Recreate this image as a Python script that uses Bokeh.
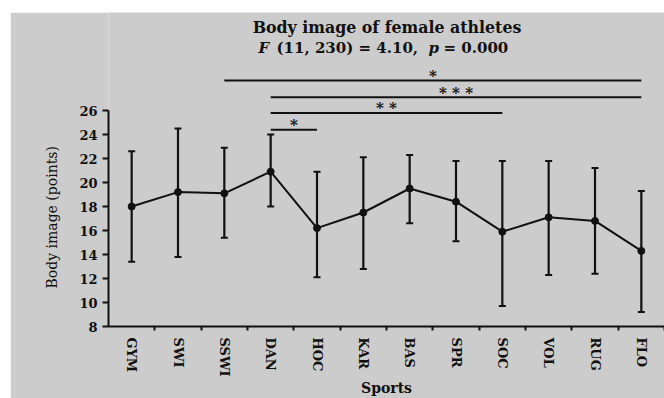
from bokeh.plotting import figure
from bokeh.models import ColumnDataSource, Range1d, FixedTicker, Whisker, TeeHead, Label, Title
from bokeh.embed import file_html
from bokeh.resources import INLINE
from bokeh.core.properties import value

# ---- data ----
categories = ["GYM", "SWI", "SSWI", "DAN", "HOC", "KAR", "BAS", "SPR", "SOC", "VOL", "RUG", "FLO"]
mean_score = [18.0, 19.2, 19.1, 20.9, 16.2, 17.5, 19.5, 18.4, 15.9, 17.1, 16.8, 14.3]
upper_score = [22.6, 24.5, 22.9, 24.0, 20.9, 22.1, 22.3, 21.8, 21.8, 21.8, 21.2, 19.3]
lower_score = [13.4, 13.8, 15.4, 18.0, 12.1, 12.8, 16.6, 15.1, 9.7, 12.3, 12.4, 9.2]
y_ticks = [8, 10, 12, 14, 16, 18, 20, 22, 24, 26]

sig_from = ["DAN", "DAN", "DAN", "SSWI"]
sig_to = ["HOC", "SOC", "FLO", "FLO"]
sig_level = [24.4, 25.8, 27.1, 28.5]
sig_label = ["*", "* *", "* * *", "*"]

title_line1 = "Body image of female athletes"
title_parts = [("F", "bold italic"), ("(11, 230) = 4.10,", "bold"), ("p", "bold italic"), ("= 0.000", "bold")]
y_label = "Body image (points)"
x_label = "Sports"

# ---- layout helpers (page pixels) ----
FONT = "DejaVu Serif"
INK = "#111111"
BG = "#cccccc"
FIG_L, FIG_T, FIG_W, FIG_H = 10, 12, 654, 386
FRAME_L, FRAME_R, FRAME_T, FRAME_B = 108, 664, 12, 326
X0, X1 = 0.5, 12.5
Y0 = 8
PX_PER_Y = 12.0
Y1 = Y0 + (FRAME_B - FRAME_T) / PX_PER_Y


def px2x(px):
    return X0 + (px - FRAME_L) * (X1 - X0) / (FRAME_R - FRAME_L)


def py2y(py):
    return Y0 + (FRAME_B - py) / PX_PER_Y


xs = [i + 1 for i in range(len(categories))]
pos = {c: x for c, x in zip(categories, xs)}

p = figure(width=FIG_W, height=FIG_H, output_backend="svg", toolbar_location=None,
           x_range=Range1d(X0, X1), y_range=Range1d(Y0, Y1),
           min_border_left=FRAME_L - FIG_L, min_border_right=0,
           min_border_top=FRAME_T - FIG_T, min_border_bottom=FIG_T + FIG_H - FRAME_B,
           margin=(FIG_T, 0, 0, FIG_L))
p.background_fill_color = BG
p.border_fill_color = BG
p.outline_line_color = None
p.xgrid.visible = False
p.ygrid.visible = False

# x axis
xa = p.xaxis[0]
xa.ticker = FixedTicker(ticks=xs, minor_ticks=[x + 0.5 for x in xs])
xa.major_label_overrides = {x: c for x, c in zip(xs, categories)}
xa.major_label_orientation = "vertical"
xa.major_label_text_font = FONT
xa.major_label_text_font_style = "bold"
xa.major_label_text_font_size = "13px"
xa.major_label_text_color = INK
xa.major_label_standoff = 7
xa.major_tick_in = 0
xa.major_tick_out = 0
xa.minor_tick_in = 0
xa.minor_tick_out = 4
xa.minor_tick_line_width = 2
xa.minor_tick_line_color = INK
xa.axis_line_width = 2
xa.axis_line_color = INK
xa.axis_label = x_label
xa.axis_label_text_font = FONT
xa.axis_label_text_font_style = "bold"
xa.axis_label_text_font_size = "14px"
xa.axis_label_text_color = INK
xa.axis_label_standoff = 0

# y axis
ya = p.yaxis[0]
ya.ticker = FixedTicker(ticks=y_ticks)
ya.bounds = (y_ticks[0], y_ticks[-1])
ya.major_label_text_font = FONT
ya.major_label_text_font_style = "bold"
ya.major_label_text_font_size = "13px"
ya.major_label_text_color = INK
ya.major_label_standoff = 5
ya.major_tick_in = 0
ya.major_tick_out = 6
ya.major_tick_line_width = 2
ya.major_tick_line_color = INK
ya.minor_tick_line_color = None
ya.axis_line_width = 2
ya.axis_line_color = INK

# y axis title, placed along the 8..26 span of the axis
p.add_layout(Title(text=y_label, align="left", offset=38, standoff=34,
                   text_font=FONT, text_font_style="normal", text_font_size="14px",
                   text_color=INK), "left")

# error bars
src = ColumnDataSource(dict(x=xs, mean=mean_score, upper=upper_score, lower=lower_score))
wh = Whisker(base="x", upper="upper", lower="lower", source=src,
             line_width=2.2, line_color=INK,
             upper_head=TeeHead(size=7, line_width=2, line_color=INK),
             lower_head=TeeHead(size=7, line_width=2, line_color=INK))
p.add_layout(wh)

p.line("x", "mean", source=src, line_width=2, line_color=INK)
p.scatter("x", "mean", source=src, size=7, color=INK)

# significance bars
sig_src = ColumnDataSource(dict(
    x0=[pos[c] for c in sig_from],
    x1=[pos[c] for c in sig_to],
    xm=[(pos[a] + pos[b]) / 2 for a, b in zip(sig_from, sig_to)],
    y=sig_level,
    ys=[v + 0.4 for v in sig_level],
    lab=sig_label))
p.segment(x0="x0", y0="y", x1="x1", y1="y", source=sig_src, line_width=2, line_color=INK)
p.text(x="xm", y="ys", text="lab", source=sig_src, text_align="center", text_baseline="alphabetic",
       text_font=value(FONT), text_font_style="bold", text_font_size="15px", text_color=INK)

# titles
p.add_layout(Label(x=px2x(386.5), y=py2y(27), text=title_line1, text_align="center",
                   text_baseline="alphabetic", text_font=FONT, text_font_style="bold",
                   text_font_size="15.8px", text_color=INK))
part_px = [258, 276, 428, 443]
for (txt, style), px in zip(title_parts, part_px):
    p.add_layout(Label(x=px2x(px), y=py2y(47), text=txt, text_align="left",
                       text_baseline="alphabetic", text_font=FONT, text_font_style=style,
                       text_font_size="15px", text_color=INK))

open("out.html", "w").write(file_html(p, INLINE))
